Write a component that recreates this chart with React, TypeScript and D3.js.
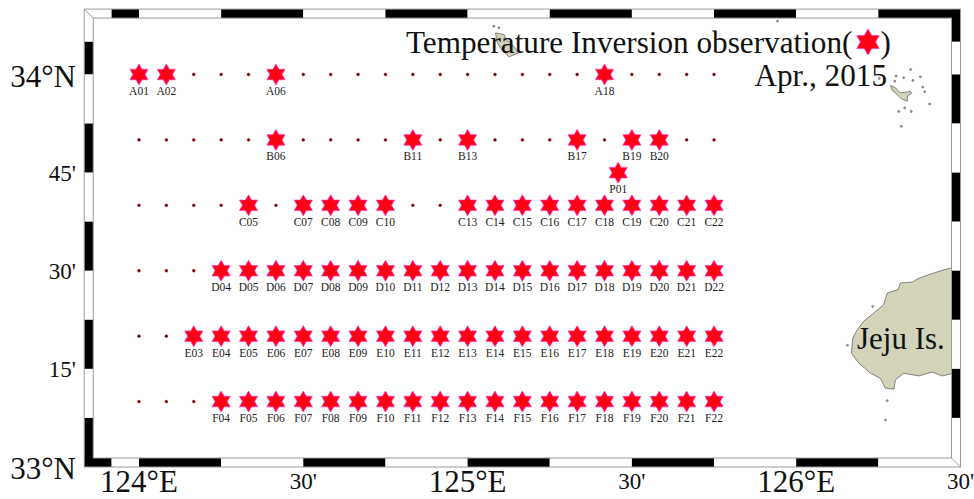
import React from 'react';
import * as d3 from 'd3';

const width = 974;
const height = 499;

// station rows: prefix and latitude
const rowNames = ['A', 'B', 'C', 'D', 'E', 'F'];
const rowLats = [34, 33 + 50 / 60, 33 + 40 / 60, 33.5, 33 + 20 / 60, 33 + 10 / 60];
const stationNumbers = d3.range(1, 23);

// stations where an inversion was observed
const observedA = [1, 2, 6, 18];
const observedB = [6, 11, 13, 17, 19, 20];
const observedC = [5, 7, 8, 9, 10, 13, 14, 15, 16, 17, 18, 19, 20, 21, 22];
const observedD = [4, 5, 6, 7, 8, 9, 10, 11, 12, 13, 14, 15, 16, 17, 18, 19, 20, 21, 22];
const observedE = [3, 4, 5, 6, 7, 8, 9, 10, 11, 12, 13, 14, 15, 16, 17, 18, 19, 20, 21, 22];
const observedF = [4, 5, 6, 7, 8, 9, 10, 11, 12, 13, 14, 15, 16, 17, 18, 19, 20, 21, 22];
const observedRows = [observedA, observedB, observedC, observedD, observedE, observedF];

const extraStation = { name: 'P01', lon: 125 + 27.5 / 60, lat: 33.75 };

// axis labels
const lonLabels: [number, string, boolean][] = [
  [124, '124°E', true],
  [124.5, "30'", false],
  [125, '125°E', true],
  [125.5, "30'", false],
  [126, '126°E', true],
  [126.5, "30'", false],
];
const latLabels: [number, string, boolean][] = [
  [34, '34°N', true],
  [33.75, "45'", false],
  [33.5, "30'", false],
  [33.25, "15'", false],
  [33, '33°N', true],
];

// frame segment edges
const lonEdges = [123 + 50 / 60, 123 + 55 / 60, 124, 124.25, 124.5, 124.75, 125, 125.25, 125.5, 125.75, 126, 126.25, 126.5];
const latEdges = [34 + 10 / 60, 34 + 5 / 60, 34, 33.875, 33.75, 33.625, 33.5, 33.375, 33.25, 33.125, 33];

// coastlines, [lon, lat]
const jeju: [number, number][] = [
  [126.48, 33.509], [126.444, 33.501], [126.403, 33.49], [126.373, 33.481], [126.353, 33.471],
  [126.317, 33.469], [126.31, 33.452], [126.277, 33.443], [126.266, 33.413], [126.241, 33.396],
  [126.205, 33.371], [126.185, 33.349], [126.172, 33.328], [126.168, 33.29], [126.19, 33.265],
  [126.226, 33.239], [126.256, 33.226], [126.271, 33.201], [126.297, 33.198], [126.302, 33.222],
  [126.327, 33.239], [126.373, 33.232], [126.414, 33.242], [126.444, 33.232], [126.48, 33.239],
];
const chujaIsland: [number, number][] = [
  [126.287, 33.972], [126.302, 33.966], [126.317, 33.953], [126.348, 33.957], [126.351, 33.952],
  [126.338, 33.945], [126.338, 33.932], [126.32, 33.938], [126.307, 33.949], [126.292, 33.96],
];
const midIsland: [number, number][] = [
  [125.085, 34.106], [125.111, 34.102], [125.118, 34.088], [125.132, 34.08], [125.155, 34.055],
  [125.126, 34.045], [125.105, 34.062], [125.09, 34.081],
];
const islets: [number, number][] = [
  [126.233, 33.409], [126.156, 33.31], [126.277, 33.169], [126.272, 33.12],
  [126.348, 34.013], [126.378, 33.994], [126.327, 33.992], [126.355, 33.985], [126.304, 33.996],
  [126.3, 33.983], [126.253, 33.99], [126.385, 33.968], [126.391, 33.956], [126.406, 33.925],
  [126.33, 33.915], [126.312, 33.906], [126.35, 33.906], [126.32, 33.868], [125.943, 34.136],
  [125.08, 34.123], [125.095, 34.119],
];

const x = d3.scaleLinear().domain([124, 126.5]).range([139, 960.5]);
const y = d3.scaleLinear().domain([33, 34]).range([467, 74.5]);
const stationLon = (n: number) => 124 + ((n - 1) * 5) / 60;

const font = "'Liberation Serif', 'Times New Roman', serif";
const band = 9;
const left = x(lonEdges[0]);
const right = x(lonEdges[lonEdges.length - 1]);
const top = y(latEdges[0]);
const bottom = y(latEdges[latEdges.length - 1]);
const grey = '#9a9a9a';
const land = '#d3d3b9';

// six pointed star around the origin
const starPath = (r: number) => {
  const pts: [number, number][] = d3.range(12).map((i) => [(i * Math.PI) / 6, i % 2 ? r / Math.sqrt(3) : r]);
  return d3.lineRadial().curve(d3.curveLinearClosed)(pts) as string;
};

const coast = d3
  .line<[number, number]>()
  .x((d) => x(d[0]))
  .y((d) => y(d[1]))
  .curve(d3.curveLinearClosed);

const Star = ({ cx, cy, r = 10.5 }: { cx: number; cy: number; r?: number }) => (
  <path d={starPath(r)} transform={`translate(${cx},${cy})`} fill="#ff0014" stroke="#ff33cc" strokeWidth={0.7} />
);

export default function App() {
  return (
    <svg width={width} height={height} style={{ position: 'absolute', left: 0, top: 0 }} fontFamily={font}>
      <rect width={width} height={height} fill="#fff" />

      {/* land */}
      {[jeju, chujaIsland, midIsland].map((p, i) => (
        <path key={i} d={coast(p) as string} fill={land} stroke="#555" strokeWidth={0.7} strokeLinejoin="round" />
      ))}
      {islets.map((d, i) => (
        <circle key={i} cx={x(d[0])} cy={y(d[1])} r={1} fill="#aaa" stroke="#555" strokeWidth={0.6} />
      ))}

      {/* frame */}
      <rect x={left} y={top} width={right - left} height={band} fill="#fff" />
      {lonEdges.slice(0, -1).map((e, i) => {
        const x0 = x(e);
        const w = x(lonEdges[i + 1]) - x0;
        return (
          <g key={i}>
            <rect x={x0} y={top} width={w} height={band} fill={i % 2 ? '#000' : '#fff'} />
            <rect x={x0} y={bottom - band} width={w} height={band} fill={i % 2 ? '#fff' : '#000'} />
          </g>
        );
      })}
      {latEdges.slice(0, -1).map((e, i) => {
        const y0 = y(e);
        const h = y(latEdges[i + 1]) - y0;
        return (
          <g key={i}>
            <rect x={left} y={y0} width={band} height={h} fill={i % 2 ? '#000' : '#fff'} />
            <rect x={right - band} y={y0} width={band} height={h} fill={i % 2 ? '#fff' : '#000'} />
          </g>
        );
      })}
      <rect x={left} y={top} width={right - left} height={bottom - top} fill="none" stroke={grey} strokeWidth={1} />
      <rect x={left + band} y={top + band} width={right - left - 2 * band} height={bottom - top - 2 * band} fill="none" stroke={grey} strokeWidth={1} />
      <line x1={left} y1={top} x2={left + band} y2={top + band} stroke={grey} />
      <line x1={right} y1={bottom} x2={right - band} y2={bottom - band} stroke={grey} />

      {/* stations */}
      {rowNames.map((name, r) =>
        stationNumbers.map((n) => {
          const cx = x(stationLon(n));
          const cy = y(rowLats[r]);
          if (!observedRows[r].includes(n)) {
            return <circle key={name + n} cx={cx} cy={cy} r={1.4} fill="#3a0000" stroke="#e01020" strokeWidth={0.6} />;
          }
          return (
            <g key={name + n}>
              <Star cx={cx} cy={cy} />
              <text x={cx} y={cy + 20.5} textAnchor="middle" fontSize={11.5} fill="#222">
                {name + String(n).padStart(2, '0')}
              </text>
            </g>
          );
        }),
      )}
      <Star cx={x(extraStation.lon)} cy={y(extraStation.lat)} />
      <text x={x(extraStation.lon)} y={y(extraStation.lat) + 20.5} textAnchor="middle" fontSize={11.5} fill="#222">
        {extraStation.name}
      </text>

      {/* axis labels */}
      {lonLabels.map(([v, t, major], i) => (
        <text key={i} x={x(v)} y={major ? 492 : 489} textAnchor="middle" fontSize={major ? 31 : 23} fill="#111">
          {t}
        </text>
      ))}
      {latLabels.map(([v, t, major], i) => (
        <text key={i} x={76} y={y(v) + (major ? 12 : 8)} textAnchor="end" fontSize={major ? 31 : 23} fill="#111">
          {t}
        </text>
      ))}

      {/* title */}
      <text x={406} y={53} fontSize={31.2} fill="#111">
        Temperature Inversion observation(
      </text>
      <Star cx={868} cy={42} r={13} />
      <text x={880.5} y={53} fontSize={31.2} fill="#111">
        )
      </text>
      <text x={887} y={86} textAnchor="end" fontSize={31.2} fill="#111">
        Apr., 2015
      </text>
      <text x={857} y={349} fontSize={31} fill="#111">
        Jeju Is.
      </text>
    </svg>
  );
}
